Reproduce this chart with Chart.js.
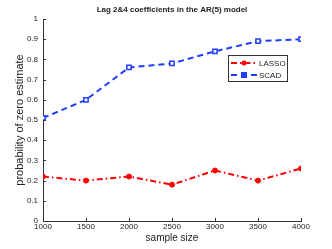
<!DOCTYPE html>
<html>
<head>
<meta charset="utf-8">
<script src="https://cdn.jsdelivr.net/npm/chart.js@4/dist/chart.umd.min.js"></script>
<style>
	html, body { margin: 0; padding: 0; background: #fff; }
	#wrap { width: 332px; height: 249px; }
</style>
</head>
<body>
<div id="wrap"><canvas id="grafico" width="332" height="249"></canvas></div>
<script>
const tamanhos = [1000, 1500, 2000, 2500, 3000, 3500, 4000];
const lasso = [0.22, 0.20, 0.22, 0.18, 0.25, 0.20, 0.26];
const scad = [0.51, 0.60, 0.76, 0.78, 0.84, 0.89, 0.90];
const nomesSeries = ['LASSO', 'SCAD'];
const titulo = 'Lag 2&4 coefficients in the AR(5) model';

const fonte = "'Liberation Sans', Arial, sans-serif";

// titulo centrado na area do grafico (como no matlab)
const tituloArea = {
	id: 'tituloArea',
	afterDraw(chart) {
		const ctx = chart.ctx;
		const a = chart.chartArea;
		ctx.save();
		ctx.fillStyle = '#222';
		ctx.font = 'bold 8px ' + fonte;
		ctx.textAlign = 'center';
		ctx.textBaseline = 'middle';
		ctx.fillText(titulo, (a.left + a.right) / 2, 10);
		ctx.restore();
	},
};

// ticks para dentro, estilo matlab
const ticksDentro = {
	id: 'ticksDentro',
	afterDraw(chart) {
		const ctx = chart.ctx;
		const a = chart.chartArea;
		ctx.save();
		ctx.strokeStyle = '#333';
		ctx.lineWidth = 1;
		chart.scales.x.ticks.forEach((t) => {
			const px = Math.round(chart.scales.x.getPixelForValue(t.value)) + 0.5;
			ctx.beginPath();
			ctx.moveTo(px, a.bottom);
			ctx.lineTo(px, a.bottom - 3);
			ctx.stroke();
		});
		chart.scales.y.ticks.forEach((t) => {
			const py = Math.round(chart.scales.y.getPixelForValue(t.value)) + 0.5;
			ctx.beginPath();
			ctx.moveTo(a.left, py);
			ctx.lineTo(a.left + 3, py);
			ctx.stroke();
		});
		ctx.restore();
	},
};

// legenda dentro do grafico
const legendaCaixa = {
	id: 'legendaCaixa',
	afterDraw(chart) {
		const ctx = chart.ctx;
		const x = 228.5, y = 55.5, w = 59, h = 26;
		ctx.save();
		ctx.fillStyle = '#fff';
		ctx.fillRect(x, y, w, h);
		ctx.strokeStyle = '#333';
		ctx.lineWidth = 1;
		ctx.strokeRect(x, y, w, h);
		chart.data.datasets.forEach((ds, i) => {
			const ly = 63 + i * 12;
			ctx.strokeStyle = ds.borderColor;
			ctx.lineWidth = 2;
			ctx.setLineDash(ds.borderDash);
			ctx.beginPath();
			ctx.moveTo(231, ly);
			ctx.lineTo(257, ly);
			ctx.stroke();
			ctx.setLineDash([]);
			ctx.fillStyle = ds.borderColor;
			if (ds.pointStyle === 'rect') {
				ctx.fillRect(241, ly - 3, 6, 6);
			} else {
				ctx.beginPath();
				ctx.arc(244, ly, 2.5, 0, Math.PI * 2);
				ctx.fill();
			}
			ctx.fillStyle = '#222';
			ctx.font = '8px ' + fonte;
			ctx.textBaseline = 'middle';
			ctx.fillText(ds.label, 259, ly + 0.5);
		});
		ctx.restore();
	},
};

new Chart(document.getElementById('grafico'), {
	type: 'line',
	data: {
		datasets: [
			{
				label: nomesSeries[0],
				data: tamanhos.map((t, i) => ({ x: t, y: lasso[i] })),
				borderColor: '#ff0000',
				backgroundColor: '#ff0000',
				borderWidth: 2,
				borderDash: [6, 3, 1.5, 3],
				pointStyle: 'circle',
				pointRadius: 2.5,
				pointBorderWidth: 1,
				pointBackgroundColor: '#ff0000',
			},
			{
				label: nomesSeries[1],
				data: tamanhos.map((t, i) => ({ x: t, y: scad[i] })),
				borderColor: '#1f3dff',
				backgroundColor: '#1f3dff',
				borderWidth: 2,
				borderDash: [6, 4],
				pointStyle: 'rect',
				pointRadius: 3,
				pointBorderWidth: 1.5,
				pointBackgroundColor: '#fff',
			},
		],
	},
	options: {
		responsive: false,
		animation: false,
		devicePixelRatio: 1,
		layout: {
			padding: { left: 0, right: 31, top: 19, bottom: 0 },
		},
		plugins: {
			legend: { display: false },
			tooltip: { enabled: false },
			title: { display: false },
		},
		scales: {
			x: {
				type: 'linear',
				min: 1000,
				max: 4000,
				afterFit: (s) => { s.height = 28; },
				ticks: {
					stepSize: 500,
					color: '#222',
					padding: 1,
					maxRotation: 0,
					font: { family: fonte, size: 8 },
					callback: (v) => String(v),
				},
				grid: { display: false, drawTicks: false },
				border: { display: true, color: '#333', width: 1 },
				title: {
					display: true,
					text: 'sample size',
					color: '#222',
					padding: { top: 0, bottom: 5 },
					font: { family: fonte, size: 10 },
				},
			},
			y: {
				min: 0,
				max: 1,
				afterFit: (s) => { s.width = 43; },
				ticks: {
					stepSize: 0.1,
					color: '#222',
					padding: 5,
					font: { family: fonte, size: 8 },
					callback: (v) => String(Math.round(v * 10) / 10),
				},
				grid: { display: false, drawTicks: false },
				border: { display: true, color: '#333', width: 1 },
				title: {
					display: true,
					text: 'probability of zero estimate',
					color: '#222',
					padding: { top: 13, bottom: 0 },
					font: { family: fonte, size: 11 },
				},
			},
		},
	},
	plugins: [ticksDentro, legendaCaixa, tituloArea],
});
</script>
</body>
</html>
